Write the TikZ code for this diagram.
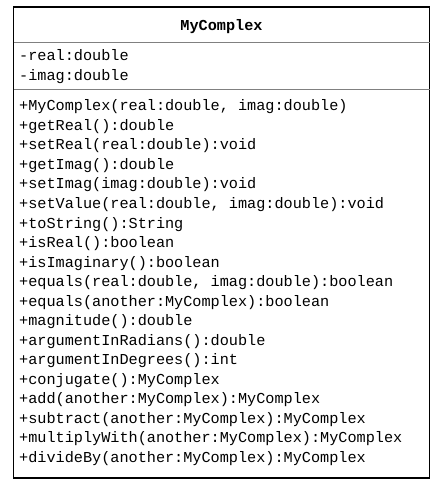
\documentclass[tikz,border=0pt]{standalone}
\usepackage{fontspec}
\newfontfamily\umlfont{Liberation Mono}
\usepackage{tikz}

\tikzset{
  member/.style={anchor=base west, inner sep=0pt, font=\umlfont\fontsize{15.2}{19.5}\selectfont},
  classname/.style={anchor=base, inner sep=0pt, font=\umlfont\bfseries\fontsize{15.2}{19.5}\selectfont},
  divider/.style={draw=black!50, line width=1.2pt}
}

\begin{document}
\begin{tikzpicture}[x=1pt,y=-1pt]
\useasboundingbox (0,0) rectangle (438,486);
\draw[line width=1.1pt, fill=white] (13.5,7) rectangle (429.5,478);
\draw[divider] (13.5,42.7)--(429.5,42.7);
\draw[divider] (13.5,89.7)--(429.5,89.7);
\node[classname] (title) at (221.5,30.5) {MyComplex};
% attributes
\node[member] (real) at (19,61) {-real:double};
\node[member] (imag) at (19,80.5) {-imag:double};
% methods
\node[member] (ctor) at (19,111) {+MyComplex(real:double, imag:double)};
\node[member] (getreal) at (19,130.5) {+getReal():double};
\node[member] (setreal) at (19,150) {+setReal(real:double):void};
\node[member] (getimag) at (19,169.5) {+getImag():double};
\node[member] (setimag) at (19,189) {+setImag(imag:double):void};
\node[member] (setvalue) at (19,208.5) {+setValue(real:double, imag:double):void};
\node[member] (tostring) at (19,228) {+toString():String};
\node[member] (isreal) at (19,247.5) {+isReal():boolean};
\node[member] (isimag) at (19,267) {+isImaginary():boolean};
\node[member] (equalsa) at (19,286.5) {+equals(real:double, imag:double):boolean};
\node[member] (equalsb) at (19,306) {+equals(another:MyComplex):boolean};
\node[member] (magnitude) at (19,325.5) {+magnitude():double};
\node[member] (argrad) at (19,345) {+argumentInRadians():double};
\node[member] (argdeg) at (19,364.5) {+argumentInDegrees():int};
\node[member] (conjugate) at (19,384) {+conjugate():MyComplex};
\node[member] (add) at (19,403.5) {+add(another:MyComplex):MyComplex};
\node[member] (subtract) at (19,423) {+subtract(another:MyComplex):MyComplex};
\node[member] (multiply) at (19,442.5) {+multiplyWith(another:MyComplex):MyComplex};
\node[member] (divide) at (19,462) {+divideBy(another:MyComplex):MyComplex};
\end{tikzpicture}
\end{document}
